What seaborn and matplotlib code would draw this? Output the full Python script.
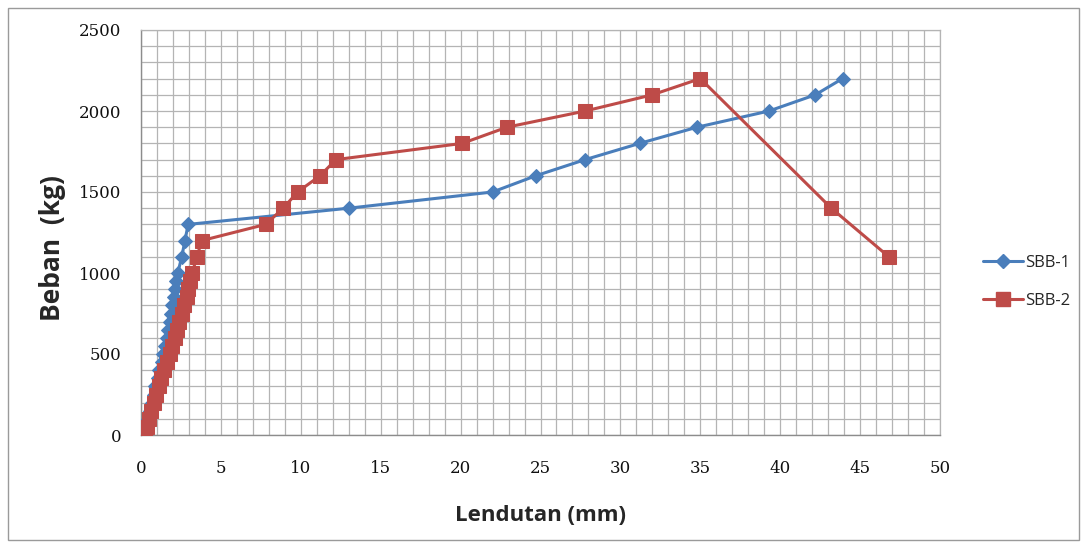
import matplotlib
matplotlib.use("Agg")
import matplotlib.pyplot as plt
import seaborn as sns
import pandas as pd
from matplotlib.ticker import MultipleLocator
from matplotlib.lines import Line2D
from matplotlib.patches import Rectangle

# ---- data ----
sbb1_defl = [0.2, 0.35, 0.45, 0.55, 0.7, 0.8, 0.9, 1.05, 1.15, 1.3, 1.4, 1.5, 1.6,
             1.7, 1.8, 1.9, 1.95, 2.05, 2.15, 2.2, 2.3, 2.55, 2.75, 2.95, 13.0,
             22.0, 24.7, 27.8, 31.2, 34.8, 39.3, 42.2, 43.9]
sbb1_load = [0, 50, 100, 150, 200, 250, 300, 350, 400, 450, 500, 550, 600,
             650, 700, 750, 800, 850, 900, 950, 1000, 1100, 1200, 1300, 1400,
             1500, 1600, 1700, 1800, 1900, 2000, 2100, 2200]

sbb2_defl = [0.25, 0.35, 0.5, 0.65, 0.8, 0.95, 1.1, 1.25, 1.45, 1.6, 1.8, 1.95, 2.1,
             2.25, 2.4, 2.55, 2.7, 2.85, 2.95, 3.05, 3.2, 3.5, 3.8, 7.8, 8.9,
             9.8, 11.2, 12.2, 20.1, 22.9, 27.8, 32.0, 35.0, 43.2, 46.8]
sbb2_load = [0, 50, 100, 150, 200, 250, 300, 350, 400, 450, 500, 550, 600,
             650, 700, 750, 800, 850, 900, 950, 1000, 1100, 1200, 1300, 1400,
             1500, 1600, 1700, 1800, 1900, 2000, 2100, 2200, 1400, 1100]

series_names = ["SBB-1", "SBB-2"]
x_label = "Lendutan (mm)"
y_label = "Beban  (kg)"

blue = "#4A7EBB"
red = "#BE4B48"

sns.set_style("white")
fig = plt.figure(figsize=(10.85, 5.44), dpi=100)
ax = fig.add_axes([141 / 1085, 1 - 435 / 544, (940 - 141) / 1085, (435 - 30) / 544])

df1 = pd.DataFrame({"x": sbb1_defl, "y": sbb1_load})
df2 = pd.DataFrame({"x": sbb2_defl, "y": sbb2_load})

sns.lineplot(data=df1, x="x", y="y", sort=False, ax=ax, color=blue, lw=2.2,
             marker="D", markersize=7.5, markeredgecolor=blue, markerfacecolor=blue,
             zorder=3, legend=False)
sns.lineplot(data=df2, x="x", y="y", sort=False, ax=ax, color=red, lw=2.2,
             marker="s", markersize=10, markeredgecolor=red, markerfacecolor=red,
             zorder=4, legend=False)

ax.set_xlim(0, 50)
ax.set_ylim(0, 2500)
ax.xaxis.set_major_locator(MultipleLocator(5))
ax.xaxis.set_minor_locator(MultipleLocator(1))
ax.yaxis.set_major_locator(MultipleLocator(500))
ax.yaxis.set_minor_locator(MultipleLocator(100))
ax.grid(True, which="both", color="#b4b4b4", lw=0.9)
ax.set_axisbelow(True)

for s in ["top", "right"]:
    ax.spines[s].set_visible(True)
    ax.spines[s].set_color("#b4b4b4")
    ax.spines[s].set_linewidth(0.9)
for s in ["left", "bottom"]:
    ax.spines[s].set_color("#8c8c8c")
    ax.spines[s].set_linewidth(1.0)

ax.tick_params(axis="both", which="major", direction="out", length=5, width=1,
               color="#8c8c8c", labelsize=12)
ax.tick_params(axis="x", which="major", pad=13)
ax.tick_params(axis="y", which="major", pad=9)
ax.tick_params(axis="both", which="minor", length=0)
for lab in ax.get_xticklabels() + ax.get_yticklabels():
    lab.set_fontfamily("DejaVu Serif")
    lab.set_color("#111111")

ax.set_xlabel(x_label, fontsize=16, fontweight="bold", family="Open Sans", labelpad=20)
ax.set_ylabel(y_label, fontsize=19, fontweight="bold", family="Open Sans")
ax.yaxis.set_label_coords(-0.094, 0.462)

handles = [
    Line2D([], [], color=blue, lw=2.2, marker="D", markersize=7.5),
    Line2D([], [], color=red, lw=2.2, marker="s", markersize=10),
]
fig.legend(handles, series_names, loc="center left", bbox_to_anchor=(968 / 1085, 1 - 282 / 544),
           frameon=False, prop={"family": "Open Sans", "size": 12},
           handlelength=2.4, handletextpad=0.1, labelspacing=1.3)

# outer chart border
fig.patches.append(Rectangle((8 / 1085, 4 / 544), 1 - 14 / 1085, 1 - 12 / 544,
                             transform=fig.transFigure, fill=False,
                             edgecolor="#9a9a9a", lw=1.0))

fig.savefig("out.png", dpi=100)
